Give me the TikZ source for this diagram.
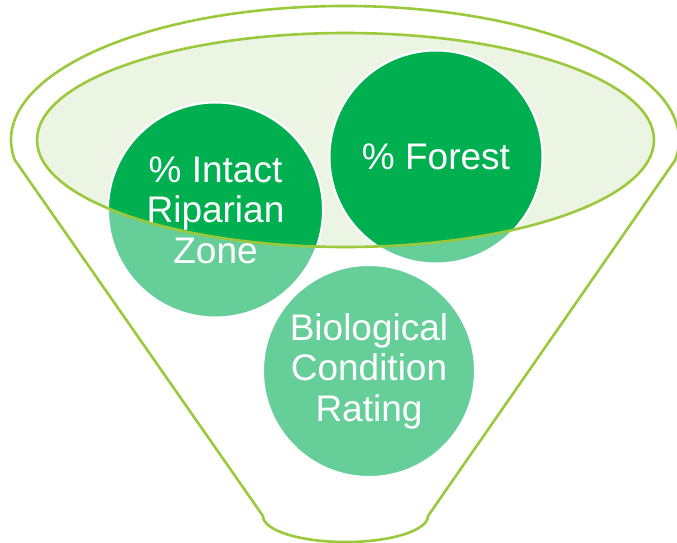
\documentclass[tikz,border=0pt]{standalone}
\usepackage{fontspec}
\setmainfont{Liberation Sans}
\definecolor{fgreen}{RGB}{154,202,60}
\definecolor{dgreen}{RGB}{0,176,80}
\definecolor{lgreen}{RGB}{102,206,153}
\definecolor{efill}{RGB}{236,245,228}
\tikzset{
  outline/.style={draw=fgreen, line width=2.6pt, line join=round},
  lightdisc/.style={fill=lgreen, draw=white, line width=2pt},
  darkdisc/.style={fill=dgreen, draw=white, line width=2pt},
  label/.style={text=white, align=center, font=\fontsize{37}{40.5}\selectfont, inner sep=0pt}
}
\begin{document}
\begin{tikzpicture}[x=1pt,y=-1pt]
\useasboundingbox (0,0) rectangle (677,542);
% funnel outline
\coordinate (fl) at (14.8,160);
\coordinate (fbr) at (428,516);
\coordinate (fbl) at (263,516);
\draw[outline] (fl) arc[start angle=171.4, end angle=368.6, x radius=334, y radius=134]
  -- (fbr) arc[start angle=0, end angle=180, x radius=82.5, y radius=26] -- cycle;
% inner ellipse fill
\coordinate (ec) at (345.5,140);
\fill[efill] (ec) ellipse[x radius=308.5, y radius=107];
% discs
\coordinate (c1) at (215.5,210);
\coordinate (c2) at (436,157);
\coordinate (c3) at (369,371);
\path[lightdisc] (c1) circle[radius=107.5];
\path[lightdisc] (c2) circle[radius=106.5];
\path[lightdisc] (c3) circle[radius=106];
\begin{scope}
  \clip (ec) ellipse[x radius=308.5, y radius=107];
  \path[darkdisc] (c1) circle[radius=107.5];
  \path[darkdisc] (c2) circle[radius=106.5];
\end{scope}
% inner ellipse outline
\draw[outline] (ec) ellipse[x radius=308.5, y radius=107];
% labels
\node[label] (t1) at (c1) {\%~Intact\\Riparian\\Zone};
\node[label] (t2) at (c2) {\%~Forest};
\node[label] (t3) at (c3) {Biological\\Condition\\Rating};
\end{tikzpicture}
\end{document}
